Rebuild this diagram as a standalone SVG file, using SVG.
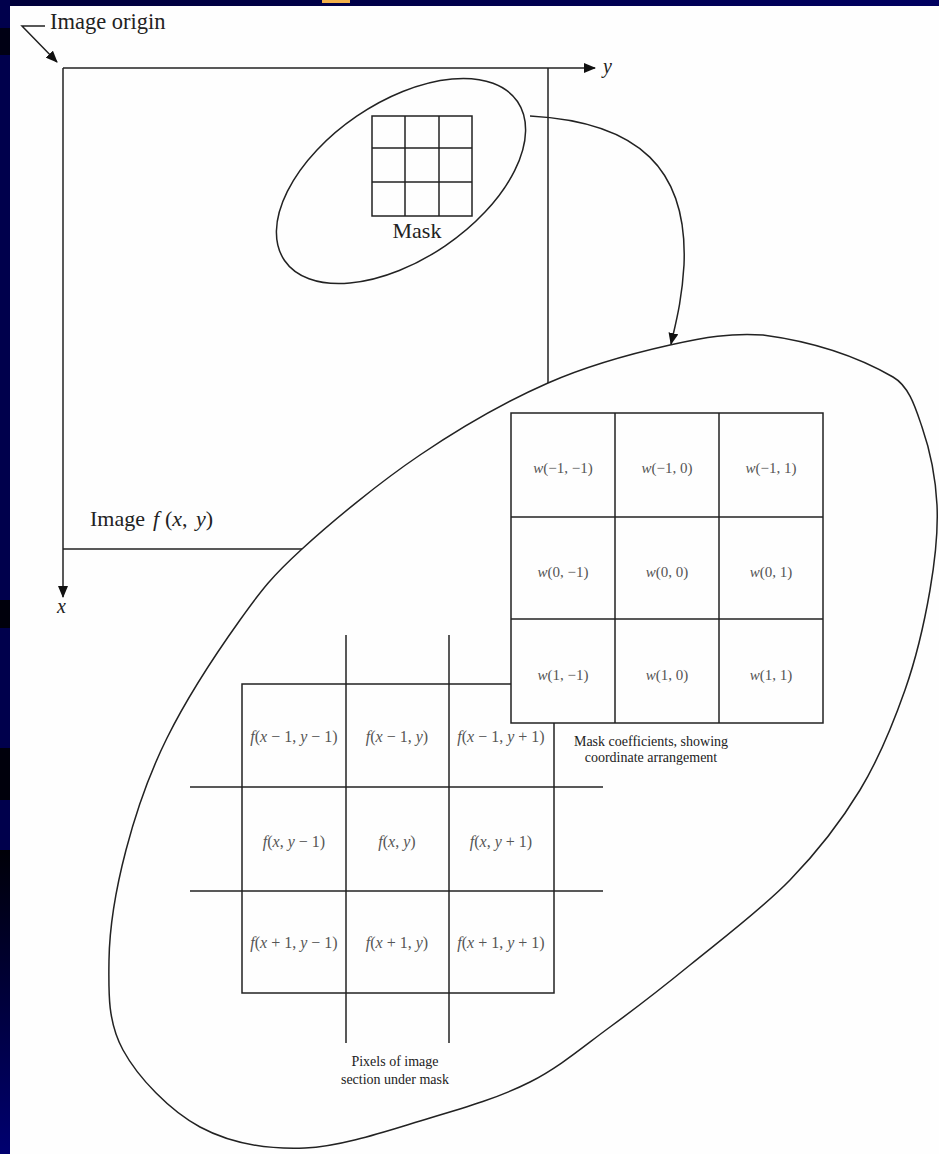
<svg xmlns="http://www.w3.org/2000/svg" width="939" height="1154" viewBox="0 0 939 1154">
<defs>
<marker id="arr" viewBox="0 0 12 10" markerWidth="12" markerHeight="10" refX="11" refY="5" orient="auto" markerUnits="userSpaceOnUse">
<path d="M0,0 L12,5 L0,10 Z" fill="#111"/>
</marker>
<linearGradient id="lg" x1="0" y1="0" x2="0" y2="1">
<stop offset="0" stop-color="#000008"/>
<stop offset="1" stop-color="#000070"/>
</linearGradient>
<linearGradient id="tg" x1="0" y1="0" x2="1" y2="0">
<stop offset="0" stop-color="#00003a"/>
<stop offset="1" stop-color="#000060"/>
</linearGradient>
</defs>
<style>
.ln{stroke:#222;stroke-width:1.5;fill:none}
.lbl{font-family:"Liberation Serif",serif;fill:#222}
.cell{font-family:"Liberation Serif",serif;fill:#555;text-anchor:middle}
.it{font-style:italic}
</style>
<rect width="939" height="1154" fill="#fefefe"/>
<g id="background">
<rect x="0" y="0" width="939" height="6" fill="url(#tg)"/>
<rect x="322" y="0" width="28" height="3" fill="#f2b04a"/>
<rect x="0" y="0" width="10" height="1154" fill="#00004c"/>
<rect x="0" y="28" width="10" height="27" fill="#000014"/>
<rect x="0" y="600" width="10" height="28" fill="#00000c"/>
<rect x="0" y="748" width="10" height="52" fill="#00000c"/>
<rect x="0" y="850" width="10" height="304" fill="url(#lg)"/>
</g>
<g id="image-frame">
<line class="ln" x1="548" y1="68" x2="548" y2="383"/>
<line class="ln" x1="63" y1="549" x2="302" y2="549"/>
<text class="lbl" x="90" y="526" font-size="22" word-spacing="3">Image <tspan class="it" x="153">f</tspan><tspan x="165">(</tspan><tspan class="it">x</tspan>, <tspan class="it">y</tspan>)</text>
</g>
<g id="axes">
<line class="ln" x1="63" y1="68" x2="595" y2="68" marker-end="url(#arr)"/>
<line class="ln" x1="63" y1="68" x2="63" y2="597" marker-end="url(#arr)"/>
<text class="lbl it" x="603" y="73" font-size="20">y</text>
<text class="lbl it" x="57" y="613" font-size="20">x</text>
</g>
<g id="image-origin">
<polyline class="ln" points="45,26 22,26 57,62" marker-end="url(#arr)"/>
<text class="lbl" x="50" y="29" font-size="22.5">Image origin</text>
</g>
<g id="mask-ellipse">
<ellipse class="ln" cx="401" cy="181" rx="141" ry="78.5" transform="rotate(-34.3 401 181)"/>
</g>
<g id="mask">
<rect class="ln" x="372" y="116" width="100" height="100"/>
<line class="ln" x1="405" y1="116" x2="405" y2="216"/>
<line class="ln" x1="439" y1="116" x2="439" y2="216"/>
<line class="ln" x1="372" y1="148" x2="472" y2="148"/>
<line class="ln" x1="372" y1="182" x2="472" y2="182"/>
<text class="lbl" x="417" y="238" font-size="22" text-anchor="middle">Mask</text>
</g>
<g id="connectors">
<path class="ln" d="M530,116 C640,122 688,170 684,265 C682,300 676,322 671,344" marker-end="url(#arr)"/>
</g>
<g id="zoom-ellipse">
<path class="ln" d="M763,335 C808,341 854,354.5 893,377 C909.5,386.5 915.8,409 922,427 C930.5,451.6 935.7,479 937,505 C938.3,532.2 935.3,559.2 930,590 C924.7,620.8 916.7,656.7 905,690 C893.3,723.3 879.2,758.3 860,790 C840.8,821.7 818.3,850.8 790,880 C761.7,909.2 720,940.5 690,965 C660,989.5 636.7,1007.5 610,1027 C583.3,1046.5 560,1066.8 530,1082 C500,1097.2 467.5,1107 430,1118 C392.5,1129 343.3,1146.5 305,1148 C266.7,1149.5 230.3,1143.3 200,1127 C169.7,1110.7 138.2,1077.8 123,1050 C107.8,1022.2 108.5,993.3 109,960 C109.5,926.7 116.3,887 126,850 C135.7,813 148,776.3 167,738 C186,699.7 217.5,651.5 240,620 C262.5,588.5 272,576.5 302,549 C332,521.5 379,482.7 420,455 C461,427.3 506.3,401.3 548,383 C589.7,364.7 634.2,353 670,345 C705.8,337 730,333 763,335 Z"/>
</g>
<g id="pixel-grid">
<line class="ln" x1="346" y1="635" x2="346" y2="1043"/>
<line class="ln" x1="449" y1="635" x2="449" y2="1043"/>
<line class="ln" x1="190" y1="787" x2="603" y2="787"/>
<line class="ln" x1="190" y1="891" x2="603" y2="891"/>
<rect class="ln" x="242" y="684" width="312" height="309"/>
<text class="cell" x="294" y="742" font-size="16"><tspan class="it">f</tspan>(<tspan class="it">x</tspan> − 1, <tspan class="it">y</tspan> − 1)</text>
<text class="cell" x="397" y="742" font-size="16"><tspan class="it">f</tspan>(<tspan class="it">x</tspan> − 1, <tspan class="it">y</tspan>)</text>
<text class="cell" x="501" y="742" font-size="16"><tspan class="it">f</tspan>(<tspan class="it">x</tspan> − 1, <tspan class="it">y</tspan> + 1)</text>
<text class="cell" x="294" y="847" font-size="16"><tspan class="it">f</tspan>(<tspan class="it">x</tspan>, <tspan class="it">y</tspan> − 1)</text>
<text class="cell" x="397" y="847" font-size="16"><tspan class="it">f</tspan>(<tspan class="it">x</tspan>, <tspan class="it">y</tspan>)</text>
<text class="cell" x="501" y="847" font-size="16"><tspan class="it">f</tspan>(<tspan class="it">x</tspan>, <tspan class="it">y</tspan> + 1)</text>
<text class="cell" x="294" y="948" font-size="16"><tspan class="it">f</tspan>(<tspan class="it">x</tspan> + 1, <tspan class="it">y</tspan> − 1)</text>
<text class="cell" x="397" y="948" font-size="16"><tspan class="it">f</tspan>(<tspan class="it">x</tspan> + 1, <tspan class="it">y</tspan>)</text>
<text class="cell" x="501" y="948" font-size="16"><tspan class="it">f</tspan>(<tspan class="it">x</tspan> + 1, <tspan class="it">y</tspan> + 1)</text>
<text class="lbl" x="395" y="1066" font-size="14" text-anchor="middle">Pixels of image</text>
<text class="lbl" x="395" y="1084" font-size="14" text-anchor="middle">section under mask</text>
</g>
<g id="mask-coefficients">
<rect x="511" y="413" width="312" height="310" fill="#fefefe" stroke="#222" stroke-width="1.5"/>
<line class="ln" x1="615" y1="413" x2="615" y2="723"/>
<line class="ln" x1="719" y1="413" x2="719" y2="723"/>
<line class="ln" x1="511" y1="517" x2="823" y2="517"/>
<line class="ln" x1="511" y1="619" x2="823" y2="619"/>
<text class="cell" x="563" y="473" font-size="15"><tspan class="it">w</tspan>(−1, −1)</text>
<text class="cell" x="667" y="473" font-size="15"><tspan class="it">w</tspan>(−1, 0)</text>
<text class="cell" x="771" y="473" font-size="15"><tspan class="it">w</tspan>(−1, 1)</text>
<text class="cell" x="563" y="577" font-size="15"><tspan class="it">w</tspan>(0, −1)</text>
<text class="cell" x="667" y="577" font-size="15"><tspan class="it">w</tspan>(0, 0)</text>
<text class="cell" x="771" y="577" font-size="15"><tspan class="it">w</tspan>(0, 1)</text>
<text class="cell" x="563" y="680" font-size="15"><tspan class="it">w</tspan>(1, −1)</text>
<text class="cell" x="667" y="680" font-size="15"><tspan class="it">w</tspan>(1, 0)</text>
<text class="cell" x="771" y="680" font-size="15"><tspan class="it">w</tspan>(1, 1)</text>
<text class="lbl" x="651" y="746" font-size="14" text-anchor="middle">Mask coefficients, showing</text>
<text class="lbl" x="651" y="762" font-size="14" text-anchor="middle">coordinate arrangement</text>
</g>
</svg>
